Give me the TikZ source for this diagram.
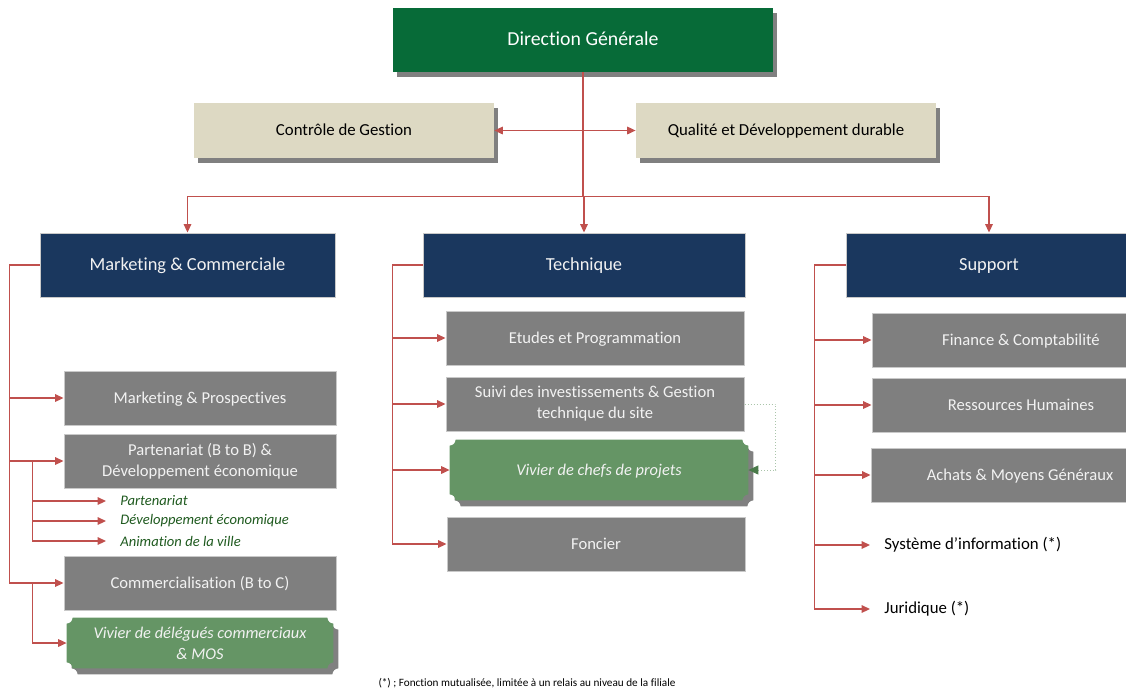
\documentclass[tikz,border=0pt]{standalone}
\usepackage{fontspec}
\setmainfont{Carlito}[Ligatures={NoCommon,NoContextual}]
\usepackage{tikz}
\usetikzlibrary{calc,arrows.meta,positioning,shadows,backgrounds}
\definecolor{DirGreen}{HTML}{076B38}
\definecolor{StaffBeige}{HTML}{DDD9C3}
\definecolor{PoleNavy}{HTML}{1A375E}
\definecolor{UnitGrey}{HTML}{7F7F7F}
\definecolor{PoolGreen}{HTML}{659565}
\definecolor{TipGreen}{HTML}{4A7A4A}
\definecolor{LinkRed}{HTML}{C0504D}
\definecolor{SubGreen}{HTML}{1F5A1F}
\definecolor{ShadeGrey}{HTML}{808080}
\definecolor{EdgeGrey}{HTML}{C9C9C9}
\newcommand{\plr}{6}
\newcommand{\plaque}[4]{%
  \fill[#2] ($(#1.north west)+(#3,#4)+(0,-\plr)$)
    arc[start angle=-90,end angle=0,radius=\plr]
    -- ($(#1.north east)+(#3,#4)+(-\plr,0)$)
    arc[start angle=180,end angle=270,radius=\plr]
    -- ($(#1.south east)+(#3,#4)+(0,\plr)$)
    arc[start angle=90,end angle=180,radius=\plr]
    -- ($(#1.south west)+(#3,#4)+(\plr,0)$)
    arc[start angle=0,end angle=90,radius=\plr]
    -- cycle;}

\begin{document}
\begin{tikzpicture}[x=0.5pt,y=0.5pt,
  every node/.style={font=\fontsize{8.3}{10.5}\selectfont, align=center},
  >={Triangle[length=4.2pt,width=3.8pt]},
  oneline/.style={text height=1.55ex, text depth=0.45ex},
  dirbox/.style={oneline, fill=DirGreen, text=white, minimum width=190pt, minimum height=32pt,
    font=\fontsize{9.9}{12}\selectfont,
    drop shadow={shadow xshift=2pt,shadow yshift=-2.5pt,opacity=1,fill=ShadeGrey}},
  staffbox/.style={oneline, fill=StaffBeige, minimum width=150pt, minimum height=27.5pt,
    font=\fontsize{8.4}{10}\selectfont,
    drop shadow={shadow xshift=2pt,shadow yshift=-2.5pt,opacity=1,fill=ShadeGrey}},
  polebox/.style={oneline, fill=PoleNavy, draw=EdgeGrey, line width=0.5pt, text=white!95!black,
    minimum width=#1, minimum height=32pt, font=\fontsize{9.2}{11}\selectfont},
  unitbox/.style={fill=UnitGrey, draw=EdgeGrey, line width=0.5pt, text=white!95!black,
    minimum width=#1, minimum height=27pt},
  poolbox/.style={text=white!95!black, minimum width=#1,
    font=\itshape\fontsize{8.2}{10.5}\selectfont},
  subitem/.style={anchor=west, inner xsep=7pt, text=SubGreen,
    font=\itshape\fontsize{7.3}{9}\selectfont},
  relay/.style={anchor=west, inner xsep=7pt, font=\fontsize{8.4}{10}\selectfont},
  link/.style={draw=LinkRed, line width=0.65pt}]

  \useasboundingbox (0,0) rectangle (1126,-693);

  % top of the chart
  \node[dirbox] (DG) at (583,-40) {Direction Générale};
  \node[staffbox] (CG) at (344,-130.5) {Contrôle de Gestion};
  \node[staffbox] (QD) at (786,-130.5) {Qualité et Développement durable};

  % the three poles
  \node[polebox=147.5pt] (MC) at (187.5,-265) {Marketing \& Commerciale};
  \node[polebox=161pt] (TE) at (584,-265) {Technique};
  \node[polebox=143pt] (SU) at (989,-265) {Support};

  % marketing & commerciale
  \node[unitbox=136pt, oneline] (MP) at (200,-398) {Marketing \& Prospectives};
  \node[unitbox=136pt] (PB) at (200,-461) {Partenariat (B to B) \&\\Développement économique};
  \node[subitem] (p1) at (106,-501) {Partenariat};
  \node[subitem] (p2) at (106,-521) {Développement économique};
  \node[subitem] (p3) at (106,-541) {Animation de la ville};
  \node[unitbox=136pt, oneline] (CO) at (200,-583) {Commercialisation (B to C)};
  \node[poolbox=133pt, minimum height=25pt] (VD) at (200,-643)
    {Vivier de délégués commerciaux\\\& MOS};

  % technique
  \node[unitbox=149pt, oneline] (EP) at (595,-338) {Etudes et Programmation};
  \node[unitbox=149pt] (SI) at (595,-404) {Suivi des investissements \& Gestion\\technique du site};
  \node[poolbox=149pt, minimum height=30pt, oneline] (VC) at (599,-470) {Vivier de chefs de projets};
  \node[unitbox=149pt, oneline] (FO) at (596,-544) {Foncier};

  % support
  \node[unitbox=149pt, oneline] (FC) at (1021,-340) {Finance \& Comptabilité};
  \node[unitbox=149pt, oneline] (RH) at (1021,-405) {Ressources Humaines};
  \node[unitbox=149pt, oneline] (AM) at (1020,-475) {Achats \& Moyens Généraux};
  \node[relay] (SY) at (870,-545) {Système d’information (*)};
  \node[relay] (JU) at (870,-609) {Juridique (*)};

  \node[font=\fontsize{5.6}{7}\selectfont] (note) at (527,-683)
    {(*) ; Fonction mutualisée, limitée à un relais au niveau de la filiale};

  \begin{scope}[on background layer]
    \plaque{VC}{ShadeGrey}{5}{-6}
    \plaque{VC}{PoolGreen}{0}{0}
    \plaque{VD}{ShadeGrey}{5}{-6}
    \plaque{VD}{PoolGreen}{0}{0}
  \end{scope}

  % links
  \draw[link] (DG.south) -- ++(0,-124) coordinate (hub);
  \draw[link,<->] (CG.east) -- (QD.west);
  \foreach \p in {MC,TE,SU}
    \draw[link,->] (hub) -| (\p.north);

  \foreach \u in {MP,PB,CO}
    \draw[link,->] (MC.west) -- ++(-30,0) |- (\u.west);
  \coordinate (pbfork) at ($(PB.west)+(-31,0)$);
  \foreach \s in {p1,p2,p3}
    \draw[link,->] (pbfork) |- (\s.west);
  \draw[link,->] ($(CO.west)+(-31,0)$) |- (VD.west);

  \foreach \u in {EP,SI,VC,FO}
    \draw[link,->] (TE.west) -- ++(-30,0) |- (\u.west);
  \draw[PoolGreen!55, line width=0.5pt, densely dotted,
    -{Triangle[length=5pt,width=4.5pt,color=TipGreen]}]
    (SI.east) -- ++(31,0) |- (VC.east);

  \foreach \u in {FC,RH,AM,SY,JU}
    \draw[link,->] (SU.west) -- ++(-31,0) |- (\u.west);
\end{tikzpicture}
\end{document}
